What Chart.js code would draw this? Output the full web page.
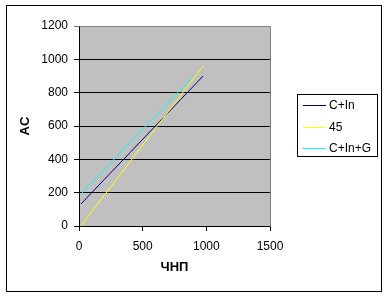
<!DOCTYPE html>
<html>
<head>
<meta charset="utf-8">
<script src="https://cdn.jsdelivr.net/npm/chart.js@4/dist/chart.umd.min.js"></script>
<style>
    html, body { margin: 0; padding: 0; background: #fff; }
    #chart { display: block; }
</style>
</head>
<body>
<canvas id="chart" width="388" height="296"></canvas>
<script>
// values
const xTicks = [0, 500, 1000, 1500];
const yTicks = [0, 200, 400, 600, 800, 1000, 1200];

const seriesNames = ["C+In", "45", "C+In+G"];
const seriesColors = ["#000080", "#ffff00", "#00ffff"];

const gnpCIn = [15, 200, 400, 600, 800, 975];
const aeCIn = [132, 280, 440, 600, 760, 900];

const gnp45 = [15, 200, 400, 600, 800, 975];
const ae45 = [0, 185, 385, 585, 785, 960];

const gnpCInG = [15, 200, 400, 600, 800, 880];
const aeCInG = [192, 340, 500, 660, 820, 884];

const FONT = "'Liberation Sans', Arial, sans-serif";

function toPoints(xs, ys) {
    return xs.map((x, i) => ({ x: x, y: ys[i] }));
}

// plot area background, chart border and the boxed legend
const excelLook = {
    id: "excelLook",
    beforeDraw(chart) {
        const { ctx, chartArea: a } = chart;
        ctx.save();
        ctx.fillStyle = "#c0c0c0";
        ctx.fillRect(a.left, a.top, a.right - a.left, a.bottom - a.top);
        ctx.restore();
    },
    afterDraw(chart) {
        const { ctx, chartArea: a } = chart;
        ctx.save();
        // plot area frame (top/right gray)
        ctx.strokeStyle = "#808080";
        ctx.lineWidth = 1;
        ctx.beginPath();
        ctx.moveTo(Math.round(a.left) + 0.5, Math.round(a.top) + 0.5);
        ctx.lineTo(Math.round(a.right) + 0.5, Math.round(a.top) + 0.5);
        ctx.lineTo(Math.round(a.right) + 0.5, Math.round(a.bottom) + 0.5);
        ctx.stroke();

        // outer chart border
        ctx.strokeStyle = "#000";
        ctx.strokeRect(6.5, 5.5, 375, 286);

        // legend
        ctx.fillStyle = "#fff";
        ctx.fillRect(297.5, 94.5, 80, 62);
        ctx.strokeRect(297.5, 94.5, 80, 62);
        ctx.font = "12px " + FONT;
        ctx.textBaseline = "middle";
        const rows = [105, 127, 148];
        chart.data.datasets.forEach((ds, i) => {
            const y = rows[i] + 0.5;
            ctx.strokeStyle = ds.borderColor;
            ctx.beginPath();
            ctx.moveTo(303, y);
            ctx.lineTo(326, y);
            ctx.stroke();
            ctx.fillStyle = "#000";
            ctx.fillText(ds.label, 329, rows[i] + 1);
        });
        ctx.restore();
    }
};

const ctx = document.getElementById("chart");

new Chart(ctx, {
    type: "scatter",
    data: {
        datasets: [
            { label: seriesNames[0], data: toPoints(gnpCIn, aeCIn), borderColor: seriesColors[0], order: 3 },
            { label: seriesNames[1], data: toPoints(gnp45, ae45), borderColor: seriesColors[1], order: 1 },
            { label: seriesNames[2], data: toPoints(gnpCInG, aeCInG), borderColor: seriesColors[2], order: 2 }
        ].map(d => ({ ...d, showLine: true, borderWidth: 1, pointRadius: 0, backgroundColor: d.borderColor, tension: 0 }))
    },
    options: {
        responsive: false,
        animation: false,
        devicePixelRatio: 1,
        layout: { padding: { left: 12, top: 26, right: 118, bottom: 20 } },
        plugins: {
            legend: { display: false },
            tooltip: { enabled: false }
        },
        scales: {
            x: {
                type: "linear",
                min: 0,
                max: 1500,
                afterBuildTicks: s => { s.ticks = xTicks.map(v => ({ value: v })); },
                afterFit: s => { s.height = 50; },
                grid: { drawOnChartArea: false, drawTicks: true, tickLength: 5, color: "#000" },
                border: { display: true, color: "#000", width: 1 },
                ticks: { color: "#000", font: { family: FONT, size: 12 }, padding: 8, maxRotation: 0, callback: v => String(v) },
                title: { display: true, text: "ЧНП", color: "#000", font: { family: FONT, size: 13, weight: "bold" }, padding: { top: 0, bottom: 1 } }
            },
            y: {
                type: "linear",
                min: 0,
                max: 1200,
                afterBuildTicks: s => { s.ticks = yTicks.map(v => ({ value: v })); },
                afterFit: s => { s.width = 67; },
                grid: { drawOnChartArea: true, drawTicks: true, tickLength: 5, color: c => (c.tick && c.tick.value === 1200 ? "#808080" : "#000") },
                border: { display: true, color: "#000", width: 1 },
                ticks: { color: "#000", font: { family: FONT, size: 12 }, padding: 6, callback: v => String(v) },
                title: { display: true, text: "AC", color: "#000", font: { family: FONT, size: 13, weight: "bold" }, padding: { top: 6, bottom: 0 } }
            }
        }
    },
    plugins: [excelLook]
});
</script>
</body>
</html>
